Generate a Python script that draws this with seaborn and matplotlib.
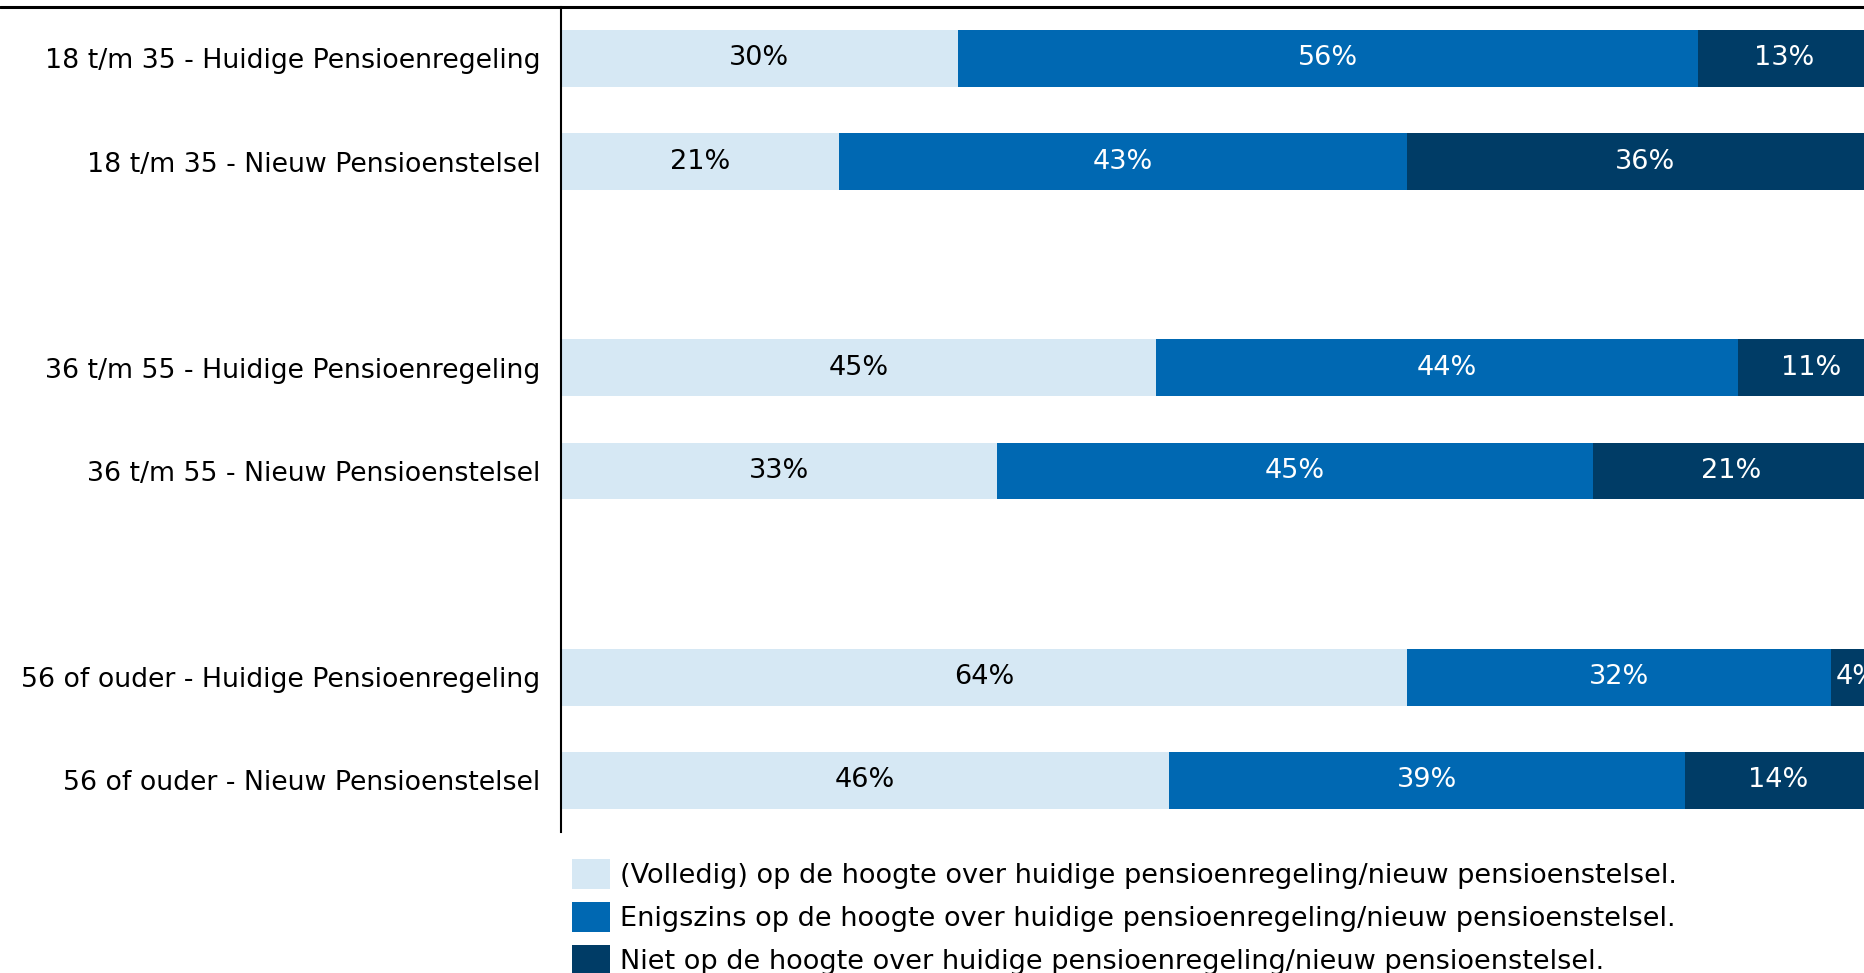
import numpy as np
import pandas as pd
import matplotlib.pyplot as plt
import seaborn as sns
from matplotlib.lines import Line2D
from matplotlib.patches import Patch

# ── Data ─────────────────────────────────────────────────────
rows = ['18 t/m 35 - Huidige Pensioenregeling',
        '18 t/m 35 - Nieuw Pensioenstelsel',
        '36 t/m 55 - Huidige Pensioenregeling',
        '36 t/m 55 - Nieuw Pensioenstelsel',
        '56 of ouder - Huidige Pensioenregeling',
        '56 of ouder - Nieuw Pensioenstelsel']
volledig = [30, 21, 45, 33, 64, 46]
enigszins = [56, 43, 44, 45, 32, 39]
niet = [13, 36, 11, 21, 4, 14]

legend_labels = ['(Volledig) op de hoogte over huidige pensioenregeling/nieuw pensioenstelsel.',
                 'Enigszins op de hoogte over huidige pensioenregeling/nieuw pensioenstelsel.',
                 'Niet op de hoogte over huidige pensioenregeling/nieuw pensioenstelsel.']
colors = ['#d6e8f4', '#0068b2', '#003c66']

# blank slots between the age groups
order = rows[:2] + [' '] + rows[2:4] + ['  '] + rows[4:]

df = pd.DataFrame({'row': rows, 'v1': volledig, 'v2': enigszins, 'v3': niet})
df['c1'] = df['v1']
df['c2'] = df['v1'] + df['v2']
df['c3'] = df['v1'] + df['v2'] + df['v3']

# ── Plot ─────────────────────────────────────────────────────
sns.set_style('white')
plt.rcParams['font.family'] = ['DejaVu Sans']
fs = 19.5

fig = plt.figure(figsize=(18.65, 9.73), dpi=100)
ax = fig.add_axes([0.3008, 0.145, 0.6992, 0.848])

for col, c in zip(['c3', 'c2', 'c1'], colors[::-1]):
    sns.barplot(data=df, x=col, y='row', order=order, color=c,
                width=0.55, ax=ax, saturation=1, errorbar=None,
                linewidth=0)

# segment labels
for i, r in df.iterrows():
    yi = order.index(r['row'])
    starts = [0, r['c1'], r['c2']]
    vals = [r['v1'], r['v2'], r['v3']]
    for k in range(3):
        ax.text(starts[k] + vals[k] / 2, yi, f"{vals[k]}%",
                ha='center', va='center', fontsize=fs,
                color='black' if k == 0 else 'white')

ax.set_xlim(0, 98.6)
ax.set_ylim(7.5, -0.5)
ax.set_xlabel('')
ax.set_ylabel('')
ax.set_xticks([])
ax.tick_params(axis='y', length=0, pad=15, labelsize=19.3, labelcolor='black')
for s in ['top', 'right', 'bottom']:
    ax.spines[s].set_visible(False)
ax.spines['left'].set_color('black')
ax.spines['left'].set_linewidth(1.5)

# top rule across the whole figure
fig.add_artist(Line2D([0, 1], [0.9925, 0.9925], transform=fig.transFigure,
                      color='black', linewidth=2.2))

handles = [Patch(facecolor=c, edgecolor='none') for c in colors]
fig.legend(handles, legend_labels, loc='upper left',
           bbox_to_anchor=(0.3067, 0.117), frameon=False, fontsize=fs,
           labelcolor='black',
           handlelength=1.4, handleheight=1.3, handletextpad=0.37,
           labelspacing=0.48, borderaxespad=0, borderpad=0)

plt.savefig('out.png', dpi=100)
